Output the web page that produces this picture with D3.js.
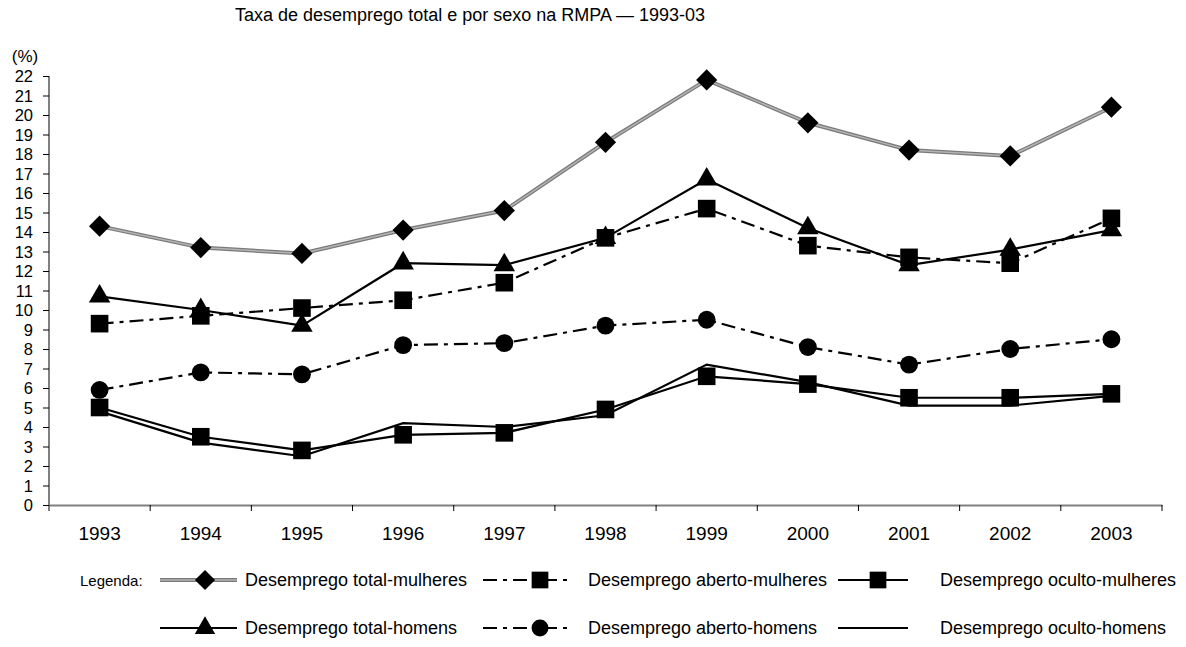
<!DOCTYPE html>
<html lang="pt">
<head>
    <meta charset="UTF-8">
    <title>Taxa de desemprego RMPA</title>
    <script src="https://d3js.org/d3.v7.min.js"></script>
    <style>
        body { margin: 0; background: #fff; }
        text { font-family: "Liberation Sans", Arial, sans-serif; fill: #000; }
    </style>
</head>
<body>
<script>
    var width = 1186, height = 647;

    // data
    var years = ['1993', '1994', '1995', '1996', '1997', '1998', '1999', '2000', '2001', '2002', '2003'];
    var totalMulheres = [14.3, 13.2, 12.9, 14.1, 15.1, 18.6, 21.8, 19.6, 18.2, 17.9, 20.4];
    var abertoMulheres = [9.3, 9.7, 10.1, 10.5, 11.4, 13.7, 15.2, 13.3, 12.7, 12.4, 14.7];
    var ocultoMulheres = [5.0, 3.5, 2.8, 3.6, 3.7, 4.9, 6.6, 6.2, 5.5, 5.5, 5.7];
    var totalHomens = [10.7, 10.0, 9.2, 12.4, 12.3, 13.7, 16.7, 14.2, 12.3, 13.1, 14.1];
    var abertoHomens = [5.9, 6.8, 6.7, 8.2, 8.3, 9.2, 9.5, 8.1, 7.2, 8.0, 8.5];
    var ocultoHomens = [4.8, 3.2, 2.5, 4.2, 4.0, 4.6, 7.2, 6.3, 5.1, 5.1, 5.6];
    var yTicks = d3.range(0, 23);

    // series: style of line and marker (diamond = square turned 45deg)
    var series = [
        {name: 'Desemprego total-mulheres', values: totalMulheres, kind: 'gray', symbol: d3.symbolSquare, size: 225, rot: 45},
        {name: 'Desemprego aberto-mulheres', values: abertoMulheres, kind: 'dashdot', symbol: d3.symbolSquare, size: 310, rot: 0},
        {name: 'Desemprego oculto-mulheres', values: ocultoMulheres, kind: 'solid', symbol: d3.symbolSquare, size: 310, rot: 0},
        {name: 'Desemprego total-homens', values: totalHomens, kind: 'solid', symbol: d3.symbolTriangle, size: 200, rot: 0},
        {name: 'Desemprego aberto-homens', values: abertoHomens, kind: 'dashdot', symbol: d3.symbolCircle, size: 250, rot: 0},
        {name: 'Desemprego oculto-homens', values: ocultoHomens, kind: 'solid', symbol: null, size: 0, rot: 0}
    ];

    var svg = d3.select('body').append('svg').attr('width', width).attr('height', height);

    var x = d3.scaleBand().domain(years).range([49, 1162]);
    var y = d3.scaleLinear().domain([0, 22]).range([505, 76]);

    // title
    svg.append('text').attr('x', 470).attr('y', 21).attr('text-anchor', 'middle')
        .style('font-size', '18px').text('Taxa de desemprego total e por sexo na RMPA — 1993-03');
    svg.append('text').attr('x', 25).attr('y', 62).attr('text-anchor', 'middle')
        .style('font-size', '17px').text('(%)');

    // y axis
    var yAxis = svg.append('g').attr('transform', 'translate(49,0)')
        .call(d3.axisLeft(y).tickValues(yTicks).tickSize(6).tickPadding(10).tickFormat(d3.format('d')));
    yAxis.select('.domain').attr('stroke', '#000').attr('d', 'M0,' + y(22) + 'V' + y(0));
    yAxis.selectAll('.tick line').attr('stroke', '#000');
    yAxis.selectAll('.tick text').style('font-size', '16.5px').attr('dy', '0.36em')
        .style('font-family', '"Liberation Sans", Arial, sans-serif');

    // x axis
    var xAxis = svg.append('g').attr('transform', 'translate(0,' + y(0) + ')')
        .call(d3.axisBottom(x).tickSize(0).tickPadding(22));
    xAxis.select('.domain').attr('stroke', '#808080').attr('stroke-width', 2);
    xAxis.selectAll('.tick text').style('font-size', '19px')
        .style('font-family', '"Liberation Sans", Arial, sans-serif');
    var bounds = years.map(function (d) { return x(d); }).concat([x.range()[1]]);
    xAxis.selectAll('.bound').data(bounds).join('line').attr('class', 'bound')
        .attr('x1', function (d) { return d; }).attr('x2', function (d) { return d; })
        .attr('y1', 0).attr('y2', 6).attr('stroke', '#000');

    function styleLine(sel, kind) {
        if (kind === 'gray') {
            sel.attr('stroke', '#7a7a7a').attr('stroke-width', 4);
        } else {
            sel.attr('stroke', '#000').attr('stroke-width', 2.2);
            if (kind === 'dashdot') sel.attr('stroke-dasharray', '14,6,4,6');
        }
    }

    var line = d3.line()
        .x(function (d, i) { return x(years[i]) + x.bandwidth() / 2; })
        .y(function (d) { return y(d); });

    series.forEach(function (s) {
        var p = svg.append('path').attr('d', line(s.values)).attr('fill', 'none');
        styleLine(p, s.kind);
        if (s.kind === 'gray') {
            svg.append('path').attr('d', line(s.values)).attr('fill', 'none')
                .attr('stroke', '#b4b4b4').attr('stroke-width', 1.5);
        }
    });

    series.forEach(function (s) {
        if (!s.symbol) return;
        svg.selectAll(null).data(s.values).join('path')
            .attr('d', d3.symbol().type(s.symbol).size(s.size))
            .attr('transform', function (d, i) {
                return 'translate(' + (x(years[i]) + x.bandwidth() / 2) + ',' + y(d) + ') rotate(' + s.rot + ')';
            })
            .attr('fill', '#000');
    });

    // legend
    svg.append('text').attr('x', 80).attr('y', 586).style('font-size', '15px').text('Legenda:');
    var legCols = [{x1: 160, x2: 237, mx: 205, tx: 245}, {x1: 483, x2: 572, mx: 540, tx: 588}, {x1: 838, x2: 908, mx: 878, tx: 940}];
    var legRows = [580, 628];
    series.forEach(function (s, i) {
        var c = legCols[i % 3], ry = legRows[Math.floor(i / 3)];
        var l = svg.append('line').attr('x1', c.x1).attr('x2', c.x2).attr('y1', ry).attr('y2', ry);
        styleLine(l, s.kind);
        if (s.kind === 'gray') {
            svg.append('line').attr('x1', c.x1).attr('x2', c.x2).attr('y1', ry).attr('y2', ry)
                .attr('stroke', '#b4b4b4').attr('stroke-width', 1.5);
        }
        if (s.symbol) {
            svg.append('path').attr('d', d3.symbol().type(s.symbol).size(s.size * 0.9))
                .attr('transform', 'translate(' + c.mx + ',' + ry + ') rotate(' + s.rot + ')').attr('fill', '#000');
        }
        svg.append('text').attr('x', c.tx).attr('y', ry + 6).style('font-size', '18px').text(s.name);
    });
</script>
</body>
</html>
